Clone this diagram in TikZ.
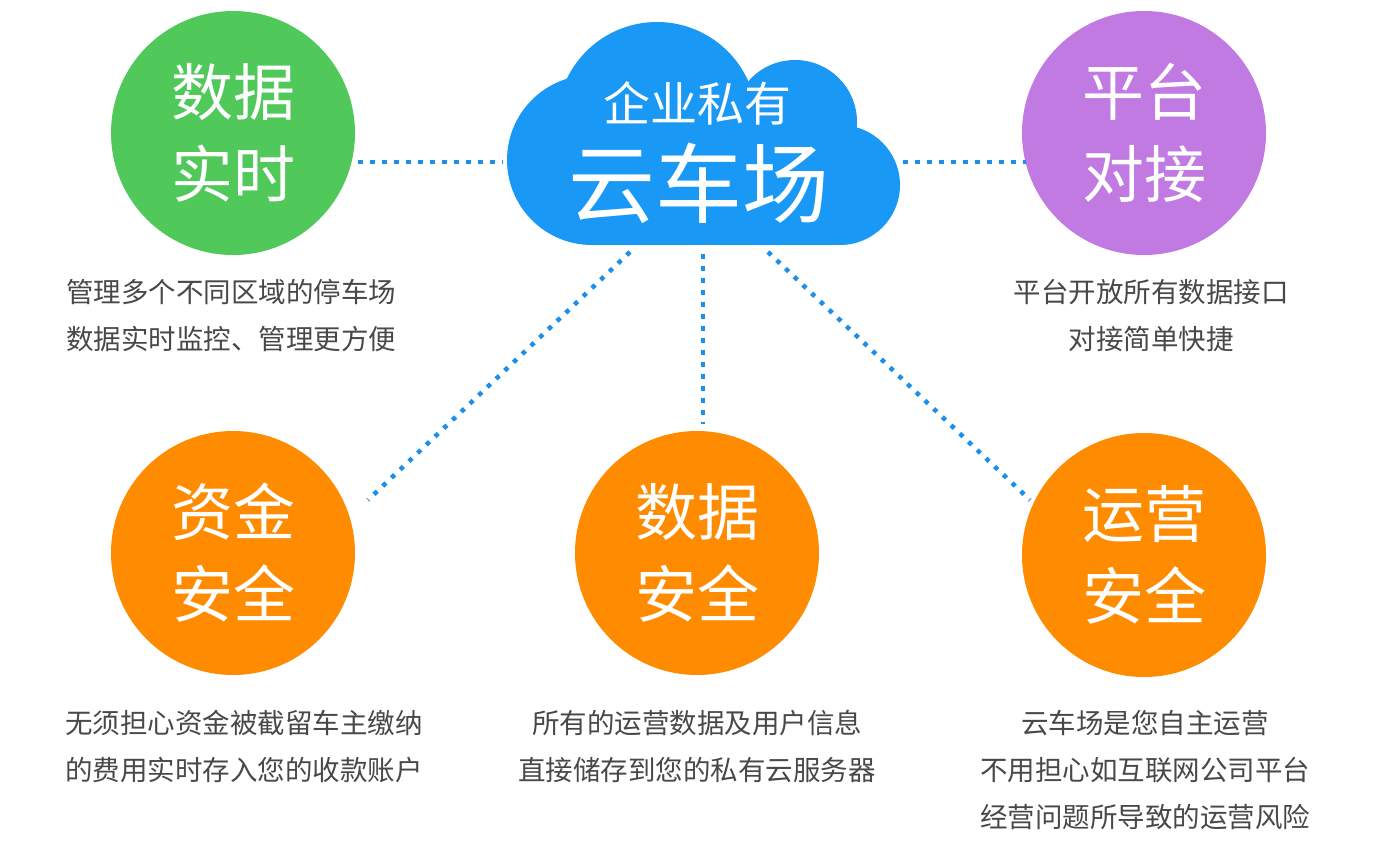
\documentclass[tikz,border=0pt]{standalone}
\usepackage{fontspec}
\setmainfont{Noto Sans CJK SC}
\definecolor{cgreen}{RGB}{80,200,90}
\definecolor{cpurple}{RGB}{194,122,227}
\definecolor{corange}{RGB}{255,139,0}
\definecolor{cblue}{RGB}{26,152,245}
\definecolor{cdot}{RGB}{29,142,234}
\definecolor{cgray}{RGB}{72,72,72}
\begin{document}
\begin{tikzpicture}[x=1pt,y=-1pt,
  bub/.style={circle, minimum size=244pt, inner sep=0pt, text=white, align=center,
    font=\fontsize{62}{82}\selectfont},
  desc/.style={text=cgray, align=center, inner sep=0pt, font=\fontsize{27.5}{47}\selectfont},
  dots/.style={draw=cdot, line width=4.5pt, dash pattern=on 4.5pt off 7.5pt},
  cloudtxt/.style={text=white, inner sep=0pt}]
\useasboundingbox (0,0) rectangle (1382,846);
% cloud shape
\fill[cblue] (592,160) circle[radius=85];
\fill[cblue] (657,122) circle[radius=100];
\fill[cblue] (795,122) circle[radius=62];
\fill[cblue] (840,185) circle[radius=60];
\fill[cblue] (592,160) rectangle (840,245);
\node[cloudtxt, font=\fontsize{47}{50}\selectfont] (cloudtop) at (697,103) {企业私有};
\node[cloudtxt, font=\fontsize{87}{90}\selectfont] (cloud) at (699,183) {云车场};
% circles
\node[bub, fill=cgreen] (g) at (233,133) {数据\\实时};
\node[bub, fill=cpurple] (p) at (1144,133) {平台\\对接};
\node[bub, fill=corange] (o1) at (233,553) {资金\\安全};
\node[bub, fill=corange] (o2) at (697,553) {数据\\安全};
\node[bub, fill=corange] (o3) at (1144,555) {运营\\安全};
% connector end points
\coordinate (cW) at (503,162);
\coordinate (cE) at (903,162);
\coordinate (cSW) at (630,252);
\coordinate (cS) at (703,254);
\coordinate (cSE) at (768,252);
\coordinate (gE) at (358,162);
\coordinate (pW) at (1026,162);
\coordinate (o1N) at (368,500);
\coordinate (o2N) at (703,424);
\coordinate (o3N) at (1030,500);
\draw[dots] (gE) -- (cW);
\draw[dots] (cE) -- (pW);
\draw[dots] (cSW) -- (o1N);
\draw[dots] (cS) -- (o2N);
\draw[dots] (cSE) -- (o3N);
% descriptions
\node[desc] (d1) at (231,316) {管理多个不同区域的停车场\\数据实时监控、管理更方便};
\node[desc] (d2) at (1151,316) {平台开放所有数据接口\\对接简单快捷};
\node[desc] (d3) at (244,746) {无须担心资金被截留车主缴纳\\的费用实时存入您的收款账户};
\node[desc] (d4) at (697,746) {所有的运营数据及用户信息\\直接储存到您的私有云服务器};
\node[desc] (d5) at (1145,770) {云车场是您自主运营\\不用担心如互联网公司平台\\经营问题所导致的运营风险};
\end{tikzpicture}
\end{document}
